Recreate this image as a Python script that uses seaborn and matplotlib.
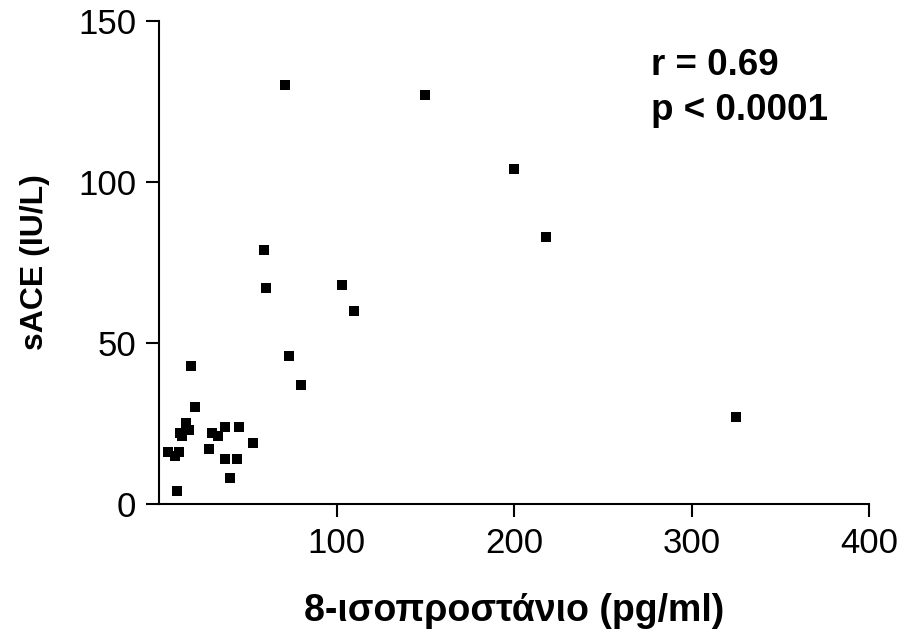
import matplotlib
matplotlib.use("Agg")
import matplotlib.pyplot as plt
import seaborn as sns
import pandas as pd

x_vals = [71, 150, 200, 218, 59, 60, 103, 110, 73, 80, 325,
          18, 20, 15, 17, 12, 13, 30, 33, 37, 45, 53, 28,
          5, 9, 11, 37, 44, 40, 10]
y_vals = [130, 127, 104, 83, 79, 67, 68, 60, 46, 37, 27,
          43, 30, 25, 23, 22, 21, 22, 21, 24, 24, 19, 17,
          16, 15, 16, 14, 14, 8, 4]
x_ticks = [100, 200, 300, 400]
y_ticks = [0, 50, 100, 150]
x_label = "8-ισοπροστάνιο (pg/ml)"
y_label = "sACE (IU/L)"
stat_lines = ["r = 0.69", "p < 0.0001"]

sns.set_theme(style="ticks")
plt.rcParams['font.family'] = ['Liberation Sans', 'DejaVu Sans']
plt.rcParams['text.color'] = 'black'
plt.rcParams['axes.labelcolor'] = 'black'

df = pd.DataFrame({"x": x_vals, "y": y_vals})

fig = plt.figure(figsize=(9, 6.37), dpi=100)
ax = fig.add_axes([0.1767, 0.2088, 0.7889, 0.7582])
sns.scatterplot(data=df, x="x", y="y", marker="s", color="black",
                s=62, linewidth=0, ax=ax)

ax.set_xlim(0, 400)
ax.set_ylim(0, 150)
ax.set_xticks(x_ticks)
ax.set_yticks(y_ticks)
ax.tick_params(axis="both", direction="out", length=9.5, width=1.5,
               labelsize=25, colors="black", pad=7)
for side in ["top", "right"]:
    ax.spines[side].set_visible(False)
for side in ["left", "bottom"]:
    ax.spines[side].set_linewidth(1.5)
    ax.spines[side].set_color("black")

ax.set_xlabel(x_label, fontsize=27, fontweight="bold", labelpad=24, color="black")
ax.set_ylabel(y_label, fontsize=23, fontweight="bold", labelpad=20, color="black")

ax.text(277, 133.2, stat_lines[0], fontsize=26.5, fontweight="bold", va="baseline", ha="left", color="black")
ax.text(277, 119.3, stat_lines[1], fontsize=26.5, fontweight="bold", va="baseline", ha="left", color="black")

fig.savefig("out.png", dpi=100)
